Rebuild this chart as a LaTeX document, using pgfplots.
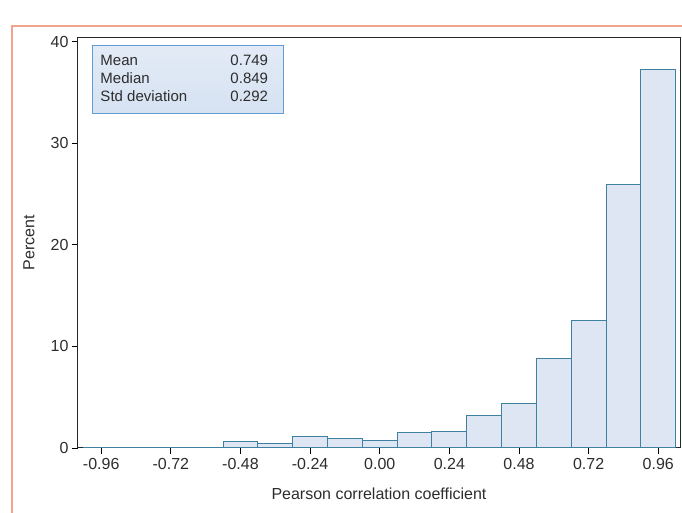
\documentclass[border=0pt]{standalone}
\usepackage{pgfplots}
\pgfplotsset{compat=1.18}
\usepackage{fontspec}
\setmainfont{Liberation Sans}
\definecolor{barfill}{RGB}{221,230,242}
\definecolor{baredge}{RGB}{62,128,160}
\definecolor{boxfill}{RGB}{214,226,242}
\definecolor{boxedge}{RGB}{96,156,214}
\definecolor{frame}{RGB}{240,165,140}
\definecolor{txt}{RGB}{45,45,45}
\pgfplotstableread{
x y
-0.96 0.06
-0.84 0.06
-0.72 0.06
-0.60 0.06
-0.48 0.65
-0.36 0.40
-0.24 1.14
-0.12 0.92
0.00 0.72
0.12 1.57
0.24 1.63
0.36 3.17
0.48 4.41
0.60 8.85
0.72 12.5
0.84 25.9
0.96 37.2
}\hist
\begin{document}
\begin{tikzpicture}
\path[use as bounding box] (-78pt,-65pt) rectangle (604pt,448pt);
\draw[frame, line width=1.2pt] (-66pt,-65pt) -- (-66pt,422pt) -- (604pt,422pt);
\begin{axis}[
  at={(0pt,0pt)}, anchor=south west,
  scale only axis, width=602pt, height=410pt,
  xmin=-1.04, xmax=1.035, ymin=0, ymax=40.35,
  font=\fontsize{16}{19}\selectfont,
  /pgf/number format/assume math mode=true,
  xtick={-0.96,-0.72,-0.48,-0.24,0,0.24,0.48,0.72,0.96},
  xticklabels={{-0.96},{-0.72},{-0.48},{-0.24},{0.00},{0.24},{0.48},{0.72},{0.96}},
  ytick={0,10,20,30,40},
  xtick pos=bottom, ytick pos=left,
  tick align=outside, major tick length=6pt,
  tick style={black, line width=0.8pt},
  axis line style={black!85, line width=1pt},
  ticklabel style={text=txt, font=\fontsize{16}{19}\selectfont},
  xticklabel style={yshift=-1pt},
  xlabel={Pearson correlation coefficient},
  ylabel={Percent},
  xlabel style={text=txt, at={(axis description cs:0.5,0)}, anchor=north, yshift=-36pt},
  ylabel style={text=txt, at={(axis description cs:0,0.5)}, anchor=south, yshift=40pt, xshift=0pt},
  clip=false,
]
\addplot[ybar, bar width=0.12, bar shift=0pt, fill=barfill, draw=baredge, line width=1pt] table[x=x,y=y] {\hist};
\node[draw=boxedge, line width=1pt, top color=boxfill!70!white, bottom color=boxfill, anchor=north west, inner xsep=0pt, inner ysep=4pt, minimum width=176pt, minimum height=68pt, text=txt, align=left, font=\fontsize{15}{18}\selectfont]
  at ([xshift=14pt,yshift=-7pt]rel axis cs:0,1)
  {\hspace*{8pt}\begin{tabular}{@{}p{118pt}r@{}}Mean & 0.749\\ Median & 0.849\\ Std deviation & 0.292\end{tabular}\hspace*{15pt}};
\end{axis}
\end{tikzpicture}
\end{document}
